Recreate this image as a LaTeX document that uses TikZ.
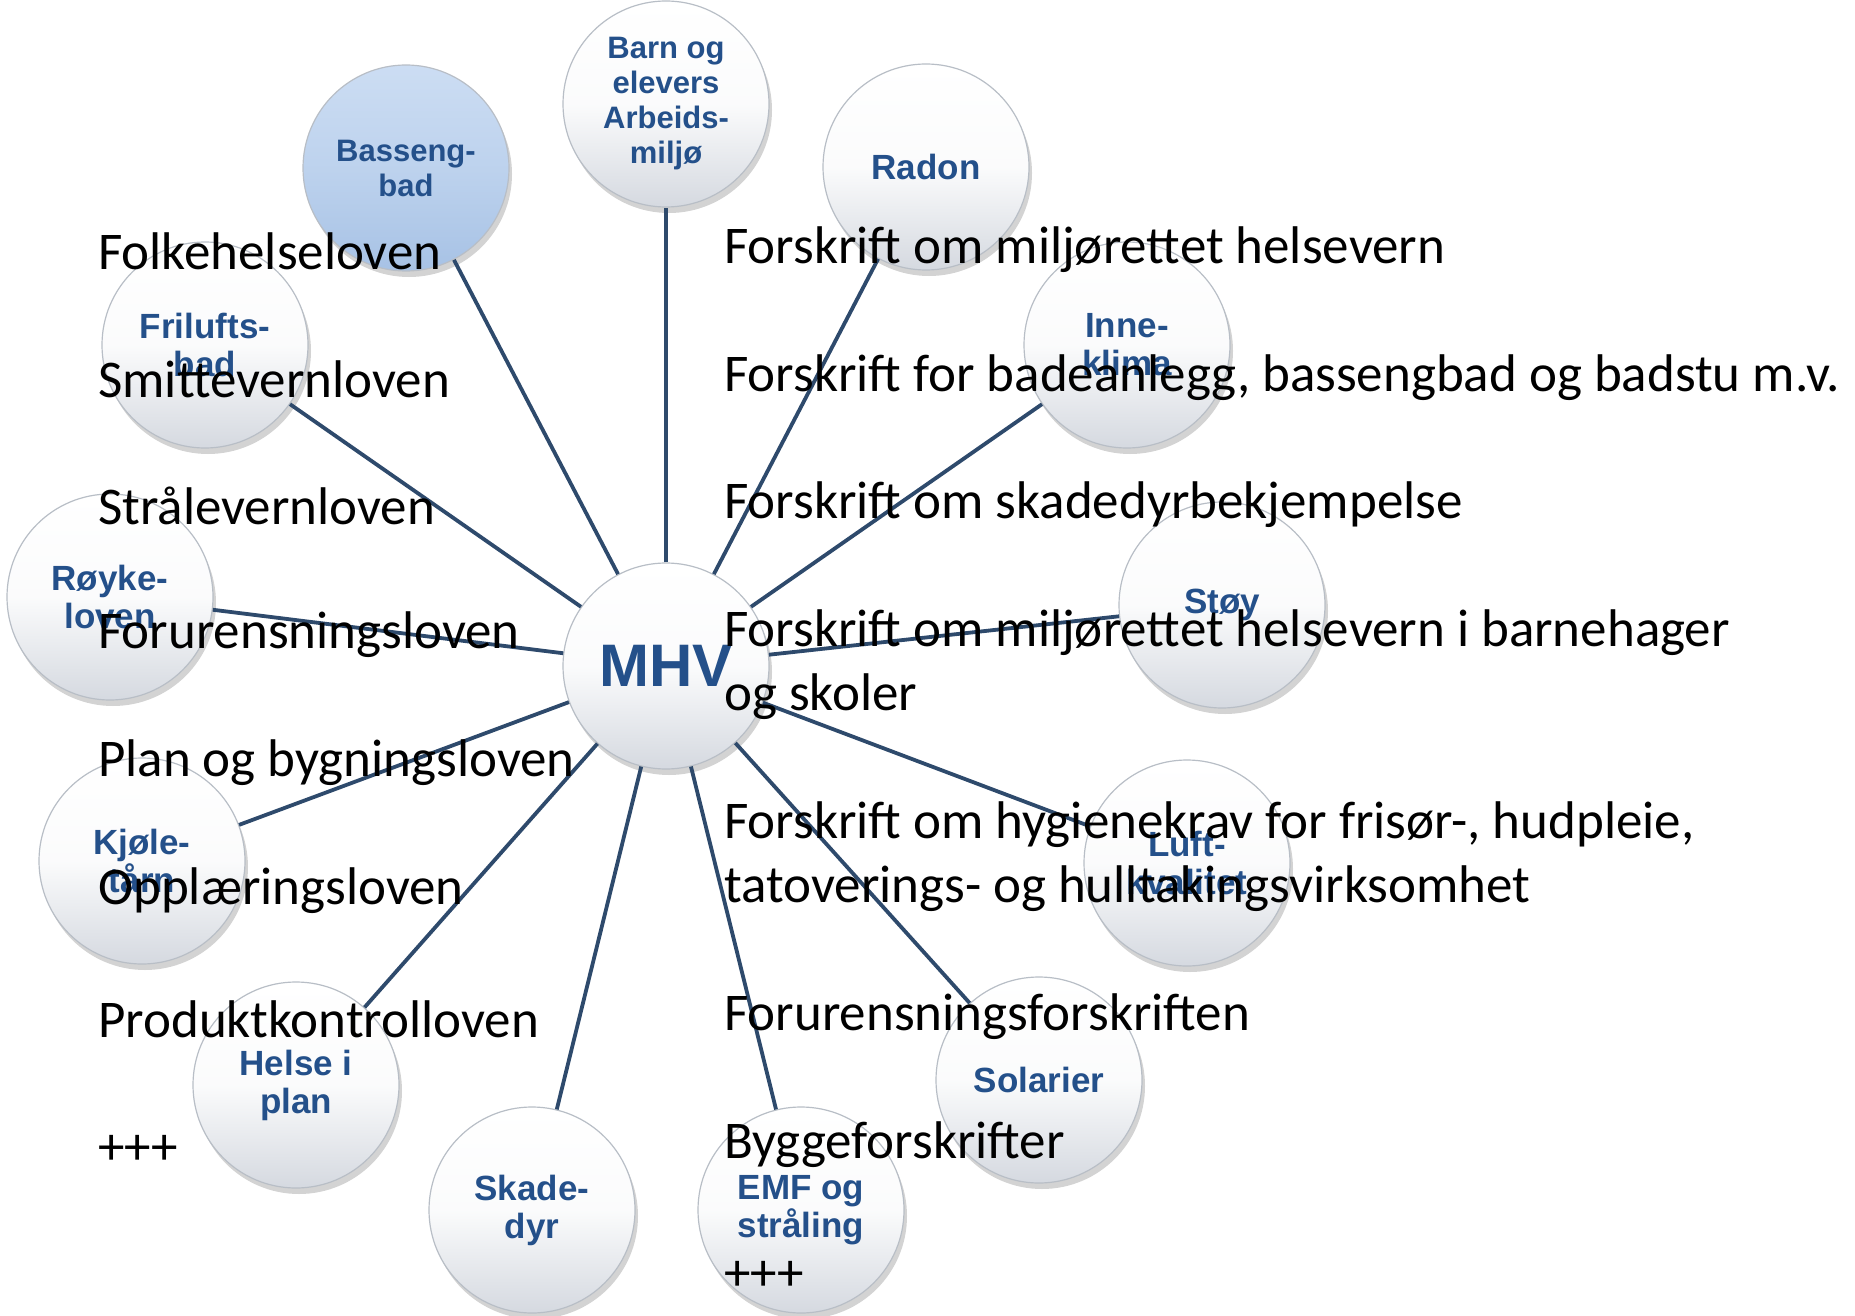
\documentclass[tikz,border=0pt]{standalone}
\usepackage{fontspec}
\setmainfont{Carlito}
\newfontfamily\circfont{Liberation Sans}
\usetikzlibrary{shadows}
\definecolor{linec}{HTML}{2E4A6C}
\definecolor{circtext}{HTML}{24508A}
\definecolor{circtop}{HTML}{FFFFFF}
\definecolor{circbot}{HTML}{D5D9E0}
\definecolor{circedge}{HTML}{B8BEC6}
\definecolor{bluetop}{HTML}{CCDDF3}
\definecolor{bluebot}{HTML}{A7C2E5}
\tikzset{
  ball/.style={circle, minimum size=206pt, inner sep=0pt, draw=circedge, line width=1.2pt,
    top color=circtop, bottom color=circbot, middle color=circtop!90!circbot,
    drop shadow={shadow xshift=3pt, shadow yshift=-6pt, opacity=0.35, fill=gray},
    align=center, text=circtext, font=\circfont\bfseries\fontsize{35}{38}\selectfont},
  smallball/.style={ball, font=\circfont\bfseries\fontsize{31}{35}\selectfont},
  blueball/.style={smallball, top color=bluetop, bottom color=bluebot, middle color=bluetop!60!bluebot},
  spoke/.style={draw=linec, line width=3.8pt},
  law/.style={anchor=west, inner sep=0pt, font=\fontsize{53}{64}\selectfont, text=black, align=left}
}
\begin{document}
\begin{tikzpicture}[x=1pt,y=-1pt]
\useasboundingbox (0,0) rectangle (1855,1316);
% circles
\node[ball] (mhv) at (666,666) {\fontsize{60}{60}\selectfont MHV};
\node[smallball] (barn) at (666,104) {Barn og\\elevers\\Arbeids-\\miljø};
\node[ball] (radon) at (926,167) {Radon};
\node[blueball] (basseng) at (406,168) {Basseng-\\bad};
\node[ball] (frilufts) at (205,345) {Frilufts-\\bad};
\node[ball] (inne) at (1127,345) {Inne-\\klima};
\node[ball] (royke) at (110,597) {Røyke-\\loven};
\node[ball] (stoy) at (1222,605) {Støy};
\node[ball] (kjole) at (142,861) {Kjøle-\\tårn};
\node[ball] (luft) at (1187,863) {Luft-\\kvalitet};
\node[ball] (helse) at (296,1085) {Helse i\\plan};
\node[ball] (solarier) at (1039,1080) {Solarier};
\node[ball] (skade) at (532,1210) {Skade-\\dyr};
\node[ball] (emf) at (801,1210) {EMF og\\stråling};
% spokes
\foreach \n in {barn,radon,basseng,frilufts,inne,royke,stoy,kjole,luft,helse,solarier,skade,emf}
  \draw[spoke] (mhv) -- (\n);
% left texts
\node[law] (t1) at (98,251) {Folkehelseloven};
\node[law] (t2) at (98,379) {Smittevernloven};
\node[law] (t3) at (98,506) {Strålevernloven};
\node[law] (t4) at (98,635) {Forurensningsloven};
\node[law] (t5) at (98,763) {Plan og bygningsloven};
\node[law] (t6) at (98,891) {Opplæringsloven};
\node[law] (t7) at (98,1019) {Produktkontrolloven};
\node[law] (t8) at (98,1150) {+++};
% right texts
\node[law] (r1) at (724,250) {Forskrift om miljørettet helsevern};
\node[law] (r2) at (724,378) {Forskrift for badeanlegg, bassengbad og badstu m.v.};
\node[law] (r3) at (724,505) {Forskrift om skadedyrbekjempelse};
\node[law] (r4) at (724,665) {Forskrift om miljørettet helsevern i barnehager\\og skoler};
\node[law] (r5) at (724,857) {Forskrift om hygienekrav for frisør-, hudpleie,\\tatoverings- og hulltakingsvirksomhet};
\node[law] (r6) at (724,1017) {Forurensningsforskriften};
\node[law] (r7) at (724,1145) {Byggeforskrifter};
\node[law] (r8) at (724,1276) {+++};
\end{tikzpicture}
\end{document}
